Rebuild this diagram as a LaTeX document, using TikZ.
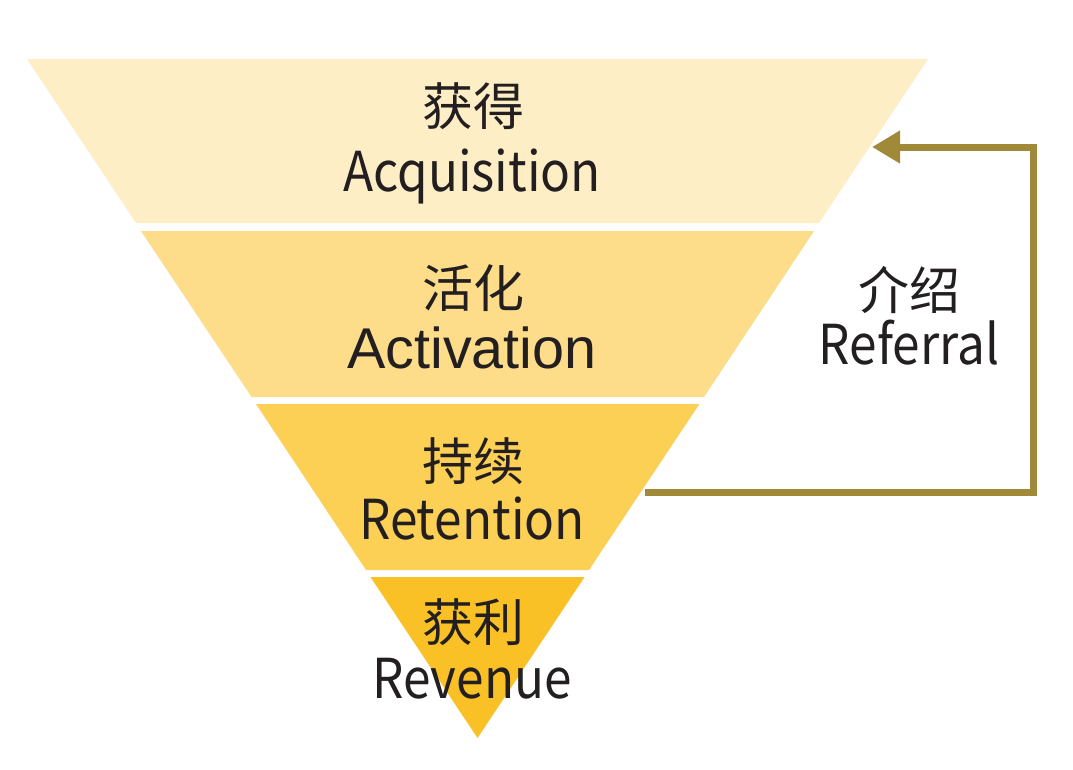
\documentclass[tikz,border=0pt]{standalone}
\usepackage{fontspec}
\setmainfont{Noto Sans CJK SC}
\newfontfamily\cjkfont{Noto Sans CJK SC}
\newfontfamily\arialfont{Liberation Sans}
\usetikzlibrary{arrows.meta}
\definecolor{bandA}{HTML}{FDEEC6}
\definecolor{bandB}{HTML}{FDDC8A}
\definecolor{bandC}{HTML}{FCCF55}
\definecolor{bandD}{HTML}{F9C126}
\definecolor{loopcol}{HTML}{A08A3A}
\definecolor{ink}{HTML}{231F20}
% slightly condensed Latin labels
\newcommand\narrowlabel[1]{\scalebox{0.9}[1]{#1}}
\tikzset{
  cjk/.style={inner sep=0pt, font=\cjkfont\fontsize{51}{55}\selectfont, text=ink},
  latin/.style={inner sep=0pt, anchor=base, font=\fontsize{55}{60}\selectfont, text=ink},
  loop/.style={draw=loopcol, line width=7pt, miter limit=10,
    -{Triangle[length=28pt,width=31pt]}}
}
\begin{document}
\begin{tikzpicture}[x=1pt,y=-1pt]
\useasboundingbox (0,0) rectangle (1073,769);
\fill[white] (0,0) rectangle (1073,769);
% funnel bands, slices of one triangle
\fill[bandA] (27,59) -- (928,59) -- (819,223) -- (136,223) -- cycle;
\fill[bandB] (141,231) -- (814,231) -- (704,397) -- (251.5,397) -- cycle;
\fill[bandC] (256,404) -- (699.4,404) -- (589,570) -- (366,570) -- cycle;
\fill[bandD] (370.5,577) -- (584.6,577) -- (477.5,738) -- cycle;
% labels
\node[cjk] (acqzh) at (473,106) {获得};
\node[latin] (acqen) at (472,191) {\narrowlabel{Acquisition}};
\node[cjk] (actzh) at (473,288) {活化};
\node[latin, font=\arialfont\fontsize{57.5}{62}\selectfont] (acten) at (472,368) {Activation};
\node[cjk] (retzh) at (473,461) {持续};
\node[latin] (reten) at (472,539) {\narrowlabel{Retention}};
\node[cjk] (revzh) at (473,622) {获利};
\node[latin] (reven) at (472,698) {\narrowlabel{Revenue}};
\node[cjk] (refzh) at (909,290) {介绍};
\node[latin] (refen) at (909,364) {\narrowlabel{Referral}};
% referral loop from retention back to acquisition
\coordinate (retedge) at (645,492);
\coordinate (acqedge) at (872,147);
\draw[loop] (retedge) -- (1033,492) -- (1033,147) -- (acqedge);
\end{tikzpicture}
\end{document}
